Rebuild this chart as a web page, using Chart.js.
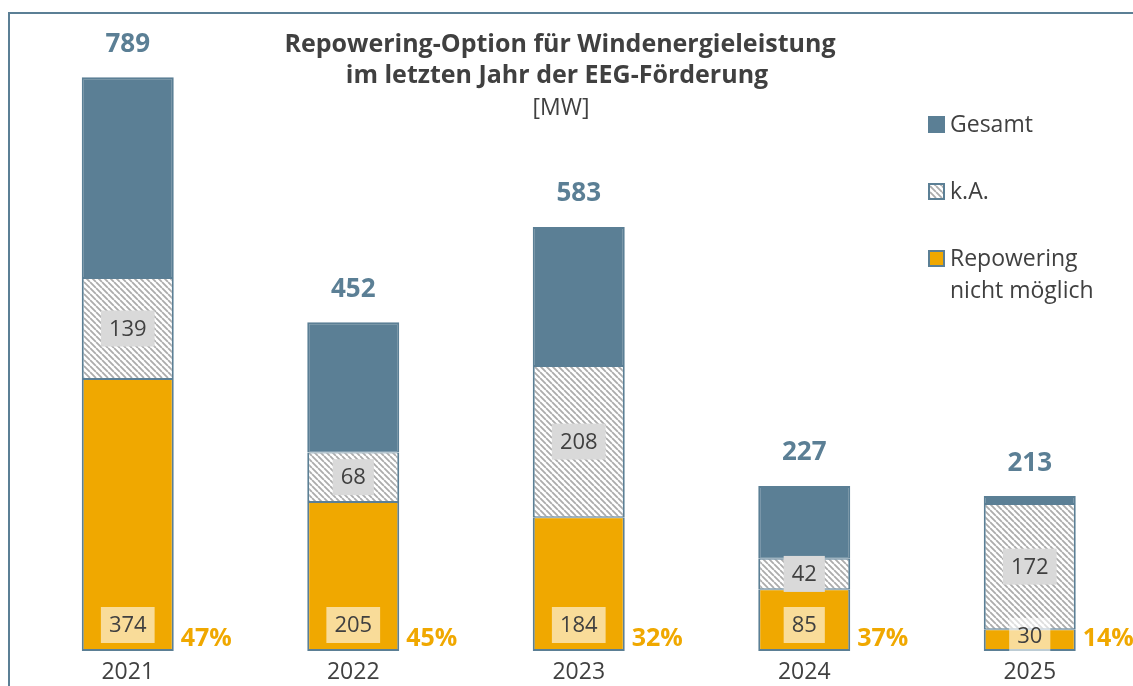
<!DOCTYPE html>
<html>
<head>
<meta charset="utf-8">
<script src="https://cdn.jsdelivr.net/npm/chart.js@4/dist/chart.umd.min.js"></script>
<style>
  html, body { margin: 0; padding: 0; background: #fff; overflow: hidden; width: 1133px; height: 686px; }
  #frame { position: absolute; left: 8px; top: 12px; width: 2000px; height: 2000px;
           border-left: 2px solid #5b7f95; border-top: 2px solid #5b7f95; }
  #c { position: absolute; left: 0; top: 0; }
</style>
</head>
<body>
<div id="frame"></div>
<canvas id="c" width="1160" height="686"></canvas>
<script>
const categories = ['2021', '2022', '2023', '2024', '2025'];
const gesamt = [789, 452, 583, 227, 213];
const keineAngabe = [139, 68, 208, 42, 172];
const repoweringNichtMoeglich = [374, 205, 184, 85, 30];
const restGesamt = gesamt.map((g, i) => g - keineAngabe[i] - repoweringNichtMoeglich[i]);

const titleLines = ['Repowering-Option für Windenergieleistung', 'im letzten Jahr der EEG-Förderung'];
const unitLabel = '[MW]';
const legendItems = [
  { key: 'gesamt', lines: ['Gesamt'] },
  { key: 'ka', lines: ['k.A.'] },
  { key: 'rep', lines: ['Repowering', 'nicht möglich'] }
];

const BLUE = '#5b7f95';
const ORANGE = '#f0a800';
const TEXT = '#404040';
const FONT = '"Open Sans", "Noto Sans", sans-serif';

function makeHatch() {
  const s = 6;
  const c = document.createElement('canvas');
  c.width = s; c.height = s;
  const g = c.getContext('2d');
  g.fillStyle = '#ffffff';
  g.fillRect(0, 0, s, s);
  g.strokeStyle = '#acacac';
  g.lineWidth = 1.8;
  g.beginPath();
  for (let o = -s; o <= s; o += s) {
    g.moveTo(o, 0);
    g.lineTo(o + s, s);
  }
  g.stroke();
  return g.createPattern(c, 'repeat');
}
const hatch = makeHatch();

const labelPlugin = {
  id: 'labels',
  afterDatasetsDraw(chart) {
    const ctx = chart.ctx;
    const mRep = chart.getDatasetMeta(0);
    const mKa = chart.getDatasetMeta(1);
    const mTop = chart.getDatasetMeta(2);
    ctx.save();
    ctx.textAlign = 'center';
    ctx.textBaseline = 'middle';
    categories.forEach((cat, i) => {
      const eRep = mRep.data[i], eKa = mKa.data[i], eTop = mTop.data[i];
      // k.A. label box
      ctx.font = '22px ' + FONT;
      let txt = String(keineAngabe[i]);
      let w = ctx.measureText(txt).width + 16;
      let cy = (eKa.y + eKa.base) / 2;
      ctx.fillStyle = '#d9d9d9';
      ctx.fillRect(eKa.x - w / 2, cy - 18, w, 36);
      ctx.fillStyle = TEXT;
      ctx.fillText(txt, eKa.x, cy + 1);
      // repowering label box
      txt = String(repoweringNichtMoeglich[i]);
      w = ctx.measureText(txt).width + 16;
      const segH = eRep.base - eRep.y;
      const segC = (eRep.y + eRep.base) / 2;
      cy = segH >= 50 ? Math.max(segC, eRep.base - 26) : segC - 4;
      ctx.fillStyle = 'rgba(255,255,255,0.6)';
      ctx.fillRect(eRep.x - w / 2, cy - 18, w, 36);
      ctx.fillStyle = TEXT;
      ctx.fillText(txt, eRep.x, cy + 1);
      // total label
      ctx.font = 'bold 26px ' + FONT;
      ctx.fillStyle = BLUE;
      ctx.fillText(String(gesamt[i]), eTop.x, eTop.y - 33);
      // percentage label
      const pct = Math.round(repoweringNichtMoeglich[i] / gesamt[i] * 100) + '%';
      ctx.font = 'bold 25px ' + FONT;
      ctx.fillStyle = ORANGE;
      ctx.textAlign = 'left';
      ctx.fillText(pct, eRep.x + eRep.width / 2 + 7, eRep.base - 12);
      ctx.textAlign = 'center';
    });
    ctx.restore();
  },
  afterDraw(chart) {
    const ctx = chart.ctx;
    ctx.save();
    ctx.textAlign = 'center';
    ctx.textBaseline = 'middle';
    ctx.fillStyle = TEXT;
    ctx.font = 'bold 25px ' + FONT;
    ctx.fillText(titleLines[0], 560, 45);
    ctx.fillText(titleLines[1], 557, 76);
    ctx.font = '23px ' + FONT;
    ctx.fillText(unitLabel, 561, 108);
    // legend
    const fills = { gesamt: BLUE, ka: hatch, rep: ORANGE };
    const ys = [125, 192, 259];
    ctx.textAlign = 'left';
    legendItems.forEach((it, k) => {
      const y = ys[k];
      ctx.fillStyle = fills[it.key];
      ctx.fillRect(929, y - 8, 15, 15);
      ctx.strokeStyle = BLUE;
      ctx.lineWidth = 2;
      ctx.strokeRect(929, y - 8, 15, 15);
      ctx.fillStyle = TEXT;
      ctx.font = '23px ' + FONT;
      it.lines.forEach((ln, j) => ctx.fillText(ln, 950, y + j * 32));
    });
    ctx.restore();
  }
};

new Chart(document.getElementById('c'), {
  type: 'bar',
  data: {
    labels: categories,
    datasets: [
      {
        label: 'Repowering nicht möglich',
        data: repoweringNichtMoeglich,
        backgroundColor: ORANGE,
        borderColor: BLUE,
        borderWidth: { top: 1, left: 2, right: 2, bottom: 2 },
        borderSkipped: false
      },
      {
        label: 'k.A.',
        data: keineAngabe,
        backgroundColor: hatch,
        borderColor: BLUE,
        borderWidth: { top: 1, left: 2, right: 2, bottom: 1 },
        borderSkipped: false
      },
      {
        label: 'Gesamt',
        data: restGesamt,
        backgroundColor: BLUE,
        borderColor: BLUE,
        borderWidth: { top: 2, left: 2, right: 2, bottom: 1 },
        borderSkipped: false
      }
    ]
  },
  options: {
    responsive: false,
    animation: false,
    devicePixelRatio: 1,
    layout: { padding: { top: 14, left: 15, right: 17.5, bottom: 0 } },
    datasets: { bar: { barPercentage: 1, categoryPercentage: 0.408, inflateAmount: 0 } },
    plugins: { legend: { display: false }, tooltip: { enabled: false }, title: { display: false } },
    scales: {
      x: {
        stacked: true,
        grid: { display: false },
        border: { display: false },
        ticks: { color: TEXT, font: { family: FONT, size: 23 }, padding: 0 },
        afterFit(s) { s.height = 35; }
      },
      y: {
        stacked: true,
        display: false,
        min: 0,
        max: 876
      }
    }
  },
  plugins: [labelPlugin]
});
</script>
</body>
</html>
